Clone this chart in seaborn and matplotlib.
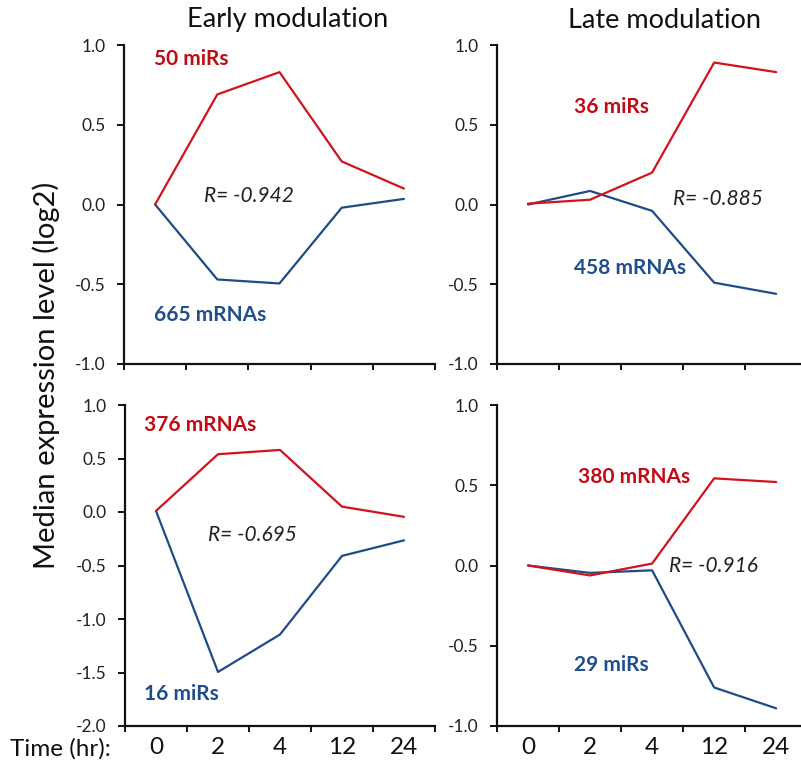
import matplotlib
matplotlib.use("Agg")
import matplotlib.pyplot as plt
import seaborn as sns
import pandas as pd
from matplotlib.ticker import FixedLocator, FuncFormatter

# ---------------- data ----------------
times = ["0", "2", "4", "12", "24"]
col_titles = ["Early modulation", "Late modulation"]
y_label = "Median expression level (log2)"
x_label = "Time (hr):"

early_top_red = [0.0, 0.69, 0.83, 0.27, 0.10]        # 50 miRs
early_top_blue = [0.0, -0.47, -0.495, -0.02, 0.035]  # 665 mRNAs
late_top_red = [0.005, 0.03, 0.20, 0.89, 0.83]       # 36 miRs
late_top_blue = [0.0, 0.085, -0.04, -0.49, -0.56]    # 458 mRNAs
early_bot_red = [0.01, 0.54, 0.58, 0.05, -0.045]     # 376 mRNAs
early_bot_blue = [0.01, -1.495, -1.145, -0.41, -0.265]  # 16 miRs
late_bot_red = [0.0, -0.062, 0.012, 0.543, 0.52]     # 380 mRNAs
late_bot_blue = [0.0, -0.046, -0.03, -0.76, -0.89]   # 29 miRs

red_labels = ["50 miRs", "36 miRs", "376 mRNAs", "380 mRNAs"]
blue_labels = ["665 mRNAs", "458 mRNAs", "16 miRs", "29 miRs"]
r_labels = ["R= -0.942", "R= -0.885", "R= -0.695", "R= -0.916"]

# ---------------- style ----------------
sns.set_style("ticks")
plt.rcParams["font.family"] = ["Lato", "DejaVu Sans"]
plt.rcParams["axes.unicode_minus"] = False

RED_LINE = "#D0141C"
BLUE_LINE = "#1F4B87"
RED_TXT = "#C00A14"
BLUE_TXT = "#1F4E8C"

W, H = 801, 761
fig = plt.figure(figsize=(W / 100, H / 100), dpi=100)


def px_axes(left, top, right, bottom):
    return fig.add_axes([left / W, 1 - bottom / H, (right - left) / W, (bottom - top) / H])


panels = [
    dict(box=(124, 45, 435, 364), red=early_top_red, blue=early_top_blue, ylim=(-1, 1),
         xlim=(-0.5, 4.5), rl=red_labels[0], bl=blue_labels[0], r=r_labels[0],
         rpos=(-0.01, 0.91), bpos=(-0.01, -0.69), Rpos=(0.78, 0.056)),
    dict(box=(497, 45, 801, 364), red=late_top_red, blue=late_top_blue, ylim=(-1, 1),
         xlim=(-0.5, 4.4), rl=red_labels[1], bl=blue_labels[1], r=r_labels[1],
         rpos=(0.74, 0.61), bpos=(0.74, -0.395), Rpos=(2.33, 0.033)),
    dict(box=(125, 405, 435, 726), red=early_bot_red, blue=early_bot_blue, ylim=(-2, 1),
         xlim=(-0.5, 4.5), rl=red_labels[2], bl=blue_labels[2], r=r_labels[2],
         rpos=(-0.2, 0.815), bpos=(-0.2, -1.70), Rpos=(0.835, -0.215)),
    dict(box=(497, 405, 801, 726), red=late_bot_red, blue=late_bot_blue, ylim=(-1, 1),
         xlim=(-0.5, 4.4), rl=red_labels[3], bl=blue_labels[3], r=r_labels[3],
         rpos=(0.80, 0.55), bpos=(0.74, -0.62), Rpos=(2.27, 0.0)),
]

for i, p in enumerate(panels):
    ax = px_axes(*p["box"])
    n = len(times)
    df = pd.DataFrame({
        "t": list(range(n)) * 2,
        "v": p["blue"] + p["red"],
        "s": ["blue"] * n + ["red"] * n,
    })
    sns.lineplot(data=df, x="t", y="v", hue="s", palette={"red": RED_LINE, "blue": BLUE_LINE},
                 legend=False, ax=ax, linewidth=1.6, estimator=None, sort=False)
    ax.set_xlim(*p["xlim"])
    ax.set_ylim(*p["ylim"])
    ax.set_xlabel("")
    ax.set_ylabel("")
    for s in ["top", "right"]:
        ax.spines[s].set_visible(False)
    for s in ["left", "bottom"]:
        ax.spines[s].set_linewidth(1.6)
        ax.spines[s].set_color("#111111")
    lo, hi = p["ylim"]
    yt = [lo + 0.5 * k for k in range(int(round((hi - lo) / 0.5)) + 1)]
    ax.yaxis.set_major_locator(FixedLocator(yt))
    ax.yaxis.set_major_formatter(FuncFormatter(lambda v, _: f"{v:.1f}"))
    ax.tick_params(axis="y", which="major", direction="out", length=5, width=1.4,
                   color="#111111", labelsize=12.5, labelcolor="#222222", pad=8)
    ax.xaxis.set_major_locator(FixedLocator(list(range(n))))
    ax.xaxis.set_minor_locator(FixedLocator([k - 0.5 for k in range(n + 1)]))
    ax.tick_params(axis="x", which="major", length=0, pad=8, labelsize=17.5, labelcolor="#111111")
    ax.tick_params(axis="x", which="minor", direction="out", length=4, width=1.4, color="#111111")
    if i >= 2:
        ax.set_xticklabels(times)
    else:
        ax.set_xticklabels([])
    ax.text(*p["rpos"], p["rl"], color=RED_TXT, fontsize=15, fontweight="bold",
            ha="left", va="center")
    ax.text(*p["bpos"], p["bl"], color=BLUE_TXT, fontsize=15, fontweight="bold",
            ha="left", va="center")
    ax.text(*p["Rpos"], p["r"], color="#222222", fontsize=15, fontstyle="italic",
            ha="left", va="center")

fig.text(288 / W, 1 - 20 / H, col_titles[0], fontsize=19.5, ha="center", va="center", color="#111111")
fig.text(664 / W, 1 - 20 / H, col_titles[1], fontsize=19.5, ha="center", va="center", color="#111111")
fig.text(46 / W, 1 - 375 / H, y_label, fontsize=21, rotation=90, ha="center", va="center", color="#111111")
fig.text(10 / W, 1 - 749 / H, x_label, fontsize=17.5, ha="left", va="center", color="#111111")

fig.savefig("out.png", dpi=100)
